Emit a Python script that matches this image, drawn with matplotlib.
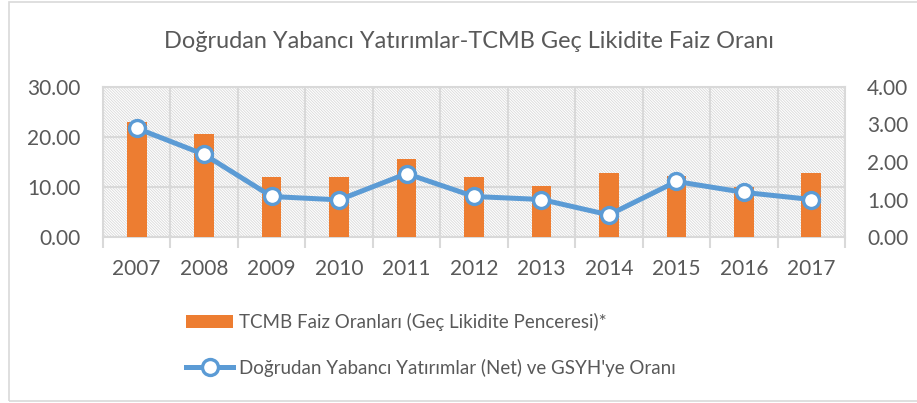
import matplotlib
matplotlib.use("Agg")
import matplotlib.pyplot as plt
from matplotlib.patches import Rectangle
from matplotlib.lines import Line2D
from matplotlib.patches import Patch
import numpy as np

years = ["2007", "2008", "2009", "2010", "2011", "2012", "2013", "2014", "2015", "2016", "2017"]
tcmb_rates = [23.0, 20.5, 12.0, 12.0, 15.5, 12.0, 10.25, 12.75, 12.25, 10.0, 12.75]
fdi_gdp = [2.90, 2.20, 1.08, 0.99, 1.69, 1.08, 1.00, 0.59, 1.48, 1.19, 1.00]

title = "Doğrudan Yabancı Yatırımlar-TCMB Geç Likidite Faiz Oranı"
bar_label = "TCMB Faiz Oranları (Geç Likidite Penceresi)*"
line_label = "Doğrudan Yabancı Yatırımlar (Net) ve GSYH'ye Oranı"

plt.rcParams['font.family'] = ['Lato', 'DejaVu Sans']
plt.rcParams['hatch.linewidth'] = 0.6

txt = "#595959"
grid = "#d9d9d9"
orange = "#ED7D31"
blue = "#5B9BD5"

fig = plt.figure(figsize=(9.17, 4.03), dpi=100)
fig.patches.append(Rectangle((8.5 / 917, 2.5 / 403), 1.0, 399 / 403, transform=fig.transFigure,
                             fill=False, edgecolor=grid, linewidth=1.2))
ax = fig.add_axes([103 / 917, 1 - 237 / 403, 742 / 917, 150 / 403])
x = np.arange(len(years))

# hatched background
ax.add_patch(Rectangle((0, 0), 1, 1, transform=ax.transAxes, facecolor="white",
                       edgecolor="#d9d9d9", hatch='\\' * 12, linewidth=0, zorder=0))

ax.bar(x, tcmb_rates, width=0.29, color=orange, zorder=3)
ax.set_xlim(-0.5, len(years) - 0.5)
ax.set_ylim(0, 30)
ax.set_yticks([0, 10, 20, 30])
ax.set_yticklabels([f"{v:.2f}" for v in [0, 10, 20, 30]])
ax.set_xticks(x)
ax.set_xticklabels(years)
ax.set_xticks(np.arange(-0.5, len(years), 1), minor=True)
ax.tick_params(axis='x', which='major', length=0, pad=16, labelsize=15, labelcolor=txt)
ax.tick_params(axis='x', which='minor', length=8, color=grid, width=1.5)
ax.tick_params(axis='y', length=0, pad=16, labelsize=15, labelcolor=txt)
ax.grid(True, axis='y', which='major', color=grid, linewidth=1.5, zorder=1)
ax.grid(True, axis='x', which='minor', color=grid, linewidth=1.5, zorder=1)
ax.set_axisbelow(True)
for s in ax.spines.values():
    s.set_color(grid)
    s.set_linewidth(1.5)
ax.patch.set_alpha(0)

ax2 = ax.twinx()
ax2.plot(x, fdi_gdp, color=blue, linewidth=3.6, marker='o', markersize=11.5,
         markerfacecolor='white', markeredgecolor=blue, markeredgewidth=2.4, zorder=5)
ax2.set_ylim(0, 4)
ax2.set_yticks([0, 1, 2, 3, 4])
ax2.set_yticklabels([f"{v:.2f}" for v in [0, 1, 2, 3, 4]])
ax2.tick_params(axis='y', length=0, pad=16, labelsize=15, labelcolor=txt)
for s in ax2.spines.values():
    s.set_visible(False)

fig.text(469 / 917, 1 - 42 / 403, title, ha='center', va='center', fontsize=16.9, color=txt)

handles = [Patch(facecolor=orange, edgecolor='none'),
           Line2D([0], [0], color=blue, linewidth=3.6, marker='o', markersize=11.5,
                  markerfacecolor='white', markeredgecolor=blue, markeredgewidth=2.4)]
fig.legend(handles, [bar_label, line_label], loc='center left',
           bbox_to_anchor=(0.203, 1 - 345 / 403), frameon=False, fontsize=13.5,
           labelcolor=txt, handlelength=2.5, handletextpad=0.3, labelspacing=1.45,
           borderpad=0, borderaxespad=0)

fig.savefig("out.png", dpi=100)
